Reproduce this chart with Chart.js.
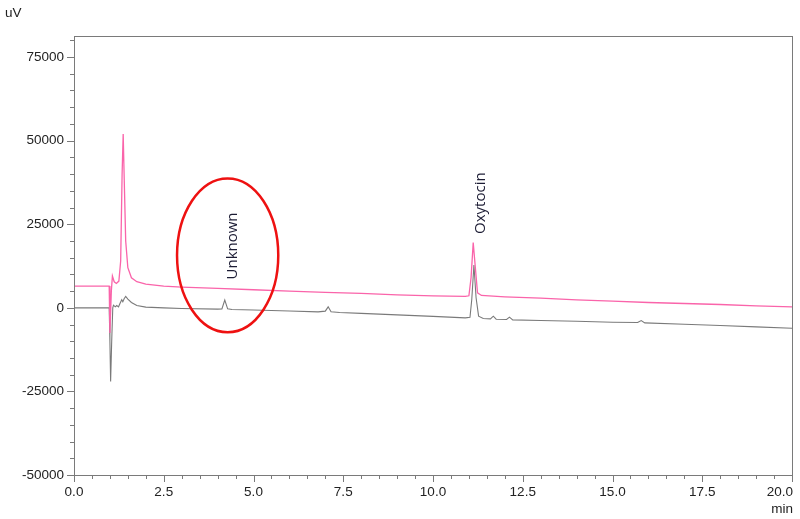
<!DOCTYPE html>
<html>
<head>
<meta charset="utf-8">
<script src="https://cdn.jsdelivr.net/npm/chart.js@4/dist/chart.umd.min.js"></script>
<style>
html,body{margin:0;padding:0;background:#fff;}
#wrap{width:800px;height:519px;position:relative;}
</style>
</head>
<body>
<div id="wrap"><canvas id="c" width="800" height="519"></canvas></div>
<script>
// ---- Data (retention time in min, signal in uV) ----
const standardTime   = [0, 0.98, 1.0, 1.04, 1.07, 1.12, 1.18, 1.25, 1.30, 1.34, 1.37, 1.40, 1.44, 1.5, 1.6, 1.75, 2.0, 2.5, 3.0, 4.0, 5.0, 6.0, 7.0, 8.0, 9.0, 10.0, 10.9, 11.0, 11.06, 11.12, 11.18, 11.24, 11.35, 12, 13, 14, 15, 16, 17, 18, 19, 20];
const standardSignal = [6500, 6500, -7500, 5000, 9500, 7800, 7300, 8000, 14000, 40000, 52000, 38000, 20000, 12000, 9000, 7800, 7100, 6500, 6200, 5800, 5400, 5000, 4600, 4300, 3900, 3600, 3400, 3600, 9000, 19500, 12000, 4500, 3700, 3300, 2900, 2400, 2000, 1600, 1300, 1000, 600, 300];

const sampleTime   = [0, 0.98, 1.0, 1.02, 1.05, 1.08, 1.1, 1.15, 1.19, 1.24, 1.29, 1.33, 1.36, 1.40, 1.44, 1.5, 1.6, 1.75, 2.0, 2.5, 3.0, 4.0, 4.12, 4.2, 4.28, 4.4, 5.0, 6.0, 6.8, 7.0, 7.08, 7.16, 7.4, 8.0, 9.0, 10.0, 10.9, 11.03, 11.08, 11.14, 11.2, 11.27, 11.4, 11.6, 11.68, 11.76, 12.05, 12.13, 12.22, 13, 14, 15, 15.7, 15.8, 15.9, 17, 18, 19, 20];
const sampleSignal = [0, 0, -10000, -22000, -10000, 0, 800, 300, 700, 300, 1500, 2400, 1800, 2800, 3400, 2600, 1600, 700, 200, 0, -200, -400, -350, 2300, -300, -500, -650, -950, -1200, -1000, 300, -1200, -1400, -1650, -2100, -2550, -3000, -2800, 2500, 12800, 3000, -2500, -3200, -3300, -2500, -3400, -3500, -2800, -3600, -3800, -4000, -4300, -4400, -3800, -4500, -4900, -5300, -5700, -6100];

// ---- Axis tick labels ----
const xTicks = [0.0, 2.5, 5.0, 7.5, 10.0, 12.5, 15.0, 17.5, 20.0];
const yTicks = [-50000, -25000, 0, 25000, 50000, 75000];
const xUnit = 'min';
const yUnit = 'uV';

// ---- Annotations (data units) ----
const peakLabels = [
  {text: 'Unknown', t: 4.41, v: 18500},
  {text: 'Oxytocin', t: 11.34, v: 31300}
];
const highlight = {t: 4.28, v: 15700, rt: 1.41, rv: 23000};

function pts(ts, vs){ return ts.map((t,i)=>({x:t, y:vs[i]})); }

const axisPlugin = {
  id: 'axisDeco',
  afterDatasetsDraw(chart){
    const ctx = chart.ctx, a = chart.chartArea;
    const xs = chart.scales.x, ys = chart.scales.y;
    ctx.save();
    // frame
    ctx.strokeStyle = '#7a7a7a'; ctx.lineWidth = 1;
    ctx.strokeRect(Math.round(a.left)+0.5, Math.round(a.top)+0.5, Math.round(a.right-a.left), Math.round(a.bottom-a.top));
    // y ticks
    ctx.beginPath();
    for (let v = -50000; v <= 80000; v += 5000){
      const y = Math.round(ys.getPixelForValue(v))+0.5;
      const len = (v % 25000 === 0) ? 7 : 4;
      ctx.moveTo(a.left, y); ctx.lineTo(a.left - len, y);
    }
    // x ticks
    for (let i = 0; i <= 40; i++){
      const t = i*0.5;
      const x = Math.round(xs.getPixelForValue(t))+0.5;
      const len = (i % 5 === 0) ? 7 : 4;
      ctx.moveTo(x, a.bottom); ctx.lineTo(x, a.bottom + len);
    }
    ctx.stroke();
    // labels
    ctx.fillStyle = '#222';
    ctx.font = '13.5px "Liberation Sans", Arial, sans-serif';
    ctx.textAlign = 'right'; ctx.textBaseline = 'middle';
    yTicks.forEach(v => ctx.fillText(String(v), a.left - 10, ys.getPixelForValue(v)));
    ctx.textBaseline = 'middle';
    xTicks.forEach((t,i) => {
      const last = i === xTicks.length - 1;
      ctx.textAlign = last ? 'right' : 'center';
      ctx.fillText(t.toFixed(1), last ? a.right + 1 : xs.getPixelForValue(t), a.bottom + 17);
    });
    ctx.textAlign = 'right';
    ctx.fillText(xUnit, a.right + 1, a.bottom + 34);
    ctx.textAlign = 'left';
    ctx.fillText(yUnit, 5, 13);
    // highlight ellipse
    const cx = xs.getPixelForValue(highlight.t), cy = ys.getPixelForValue(highlight.v);
    const rx = Math.abs(xs.getPixelForValue(highlight.t + highlight.rt) - cx);
    const ry = Math.abs(ys.getPixelForValue(highlight.v + highlight.rv) - cy);
    ctx.beginPath();
    ctx.ellipse(cx, cy, rx, ry, 0, 0, Math.PI*2);
    ctx.strokeStyle = '#ee1111'; ctx.lineWidth = 2.5;
    ctx.stroke();
    // peak labels (rotated)
    ctx.fillStyle = '#1c1c34';
    ctx.font = '15px "Open Sans", "Noto Sans", sans-serif';
    ctx.textAlign = 'center'; ctx.textBaseline = 'middle';
    peakLabels.forEach(p => {
      ctx.save();
      ctx.translate(xs.getPixelForValue(p.t), ys.getPixelForValue(p.v));
      ctx.rotate(-Math.PI/2);
      ctx.fillText(p.text, 0, 0);
      ctx.restore();
    });
    ctx.restore();
  }
};

new Chart(document.getElementById('c'), {
  type: 'line',
  data: {
    datasets: [
      {label: 'Standard', data: pts(standardTime, standardSignal), borderColor: 'rgb(250,100,170)', borderWidth: 1.3, pointRadius: 0, tension: 0, order: 0},
      {label: 'Sample', data: pts(sampleTime, sampleSignal), borderColor: '#7a7a7a', borderWidth: 1.1, pointRadius: 0, tension: 0, order: 1}
    ]
  },
  options: {
    responsive: false,
    animation: false,
    devicePixelRatio: 1,
    layout: {padding: {left: 74, top: 36, right: 8, bottom: 44}},
    plugins: {legend: {display: false}, tooltip: {enabled: false}},
    scales: {
      x: {type: 'linear', min: 0, max: 20, grid: {display: false}, border: {display: false}, ticks: {display: false},
          afterFit: s => { s.height = 0; s.paddingLeft = 0; s.paddingRight = 0; }},
      y: {type: 'linear', min: -50000, max: 81300, grid: {display: false}, border: {display: false}, ticks: {display: false},
          afterFit: s => { s.width = 0; s.paddingTop = 0; s.paddingBottom = 0; }}
    }
  },
  plugins: [axisPlugin]
});
</script>
</body>
</html>
